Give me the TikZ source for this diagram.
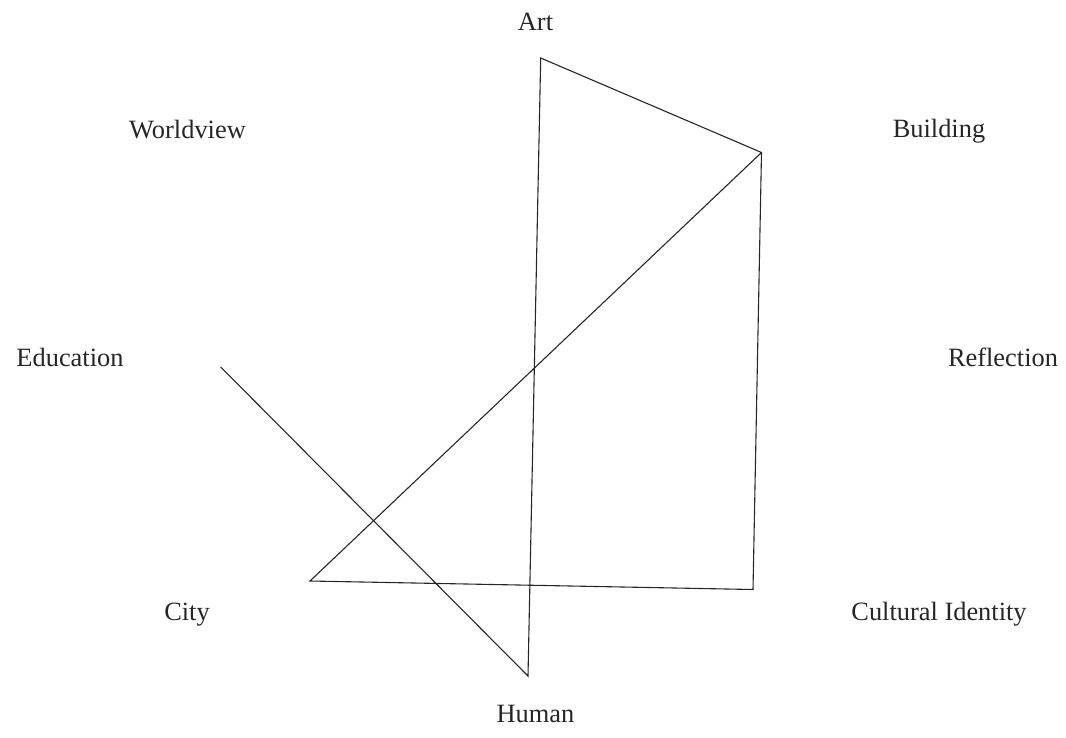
\documentclass[tikz,border=0pt]{standalone}
\usepackage{fontspec}
\setmainfont{Liberation Serif}
\begin{document}
\begin{tikzpicture}[x=1pt,y=-1pt,
  lbl/.style={anchor=base,inner sep=0pt,font=\fontsize{26.4}{30}\selectfont,text=black!85},
  edge/.style={draw=black!85,line width=1.1pt}]
\useasboundingbox (0,0) rectangle (1066,737);
\node[lbl] (art) at (535.5,30) {Art};
\node[lbl] (worldview) at (187.5,138) {Worldview};
\node[lbl] (building) at (939,137) {Building};
\node[lbl] (education) at (70,366) {Education};
\node[lbl] (reflection) at (1003,366) {Reflection};
\node[lbl] (city) at (187,620) {City};
\node[lbl] (cultural) at (939,620) {Cultural Identity};
\node[lbl] (human) at (535.5,722) {Human};
\coordinate (p1) at (220.7,367);
\coordinate (p2) at (528,676);
\coordinate (p3) at (540.7,58);
\coordinate (p4) at (761.5,152.5);
\coordinate (p5) at (753,589.5);
\coordinate (p6) at (310,581);
\draw[edge,line join=miter] (p1) -- (p2) -- (p3) -- (p4) -- (p5) -- (p6) -- (p4);
\end{tikzpicture}
\end{document}
